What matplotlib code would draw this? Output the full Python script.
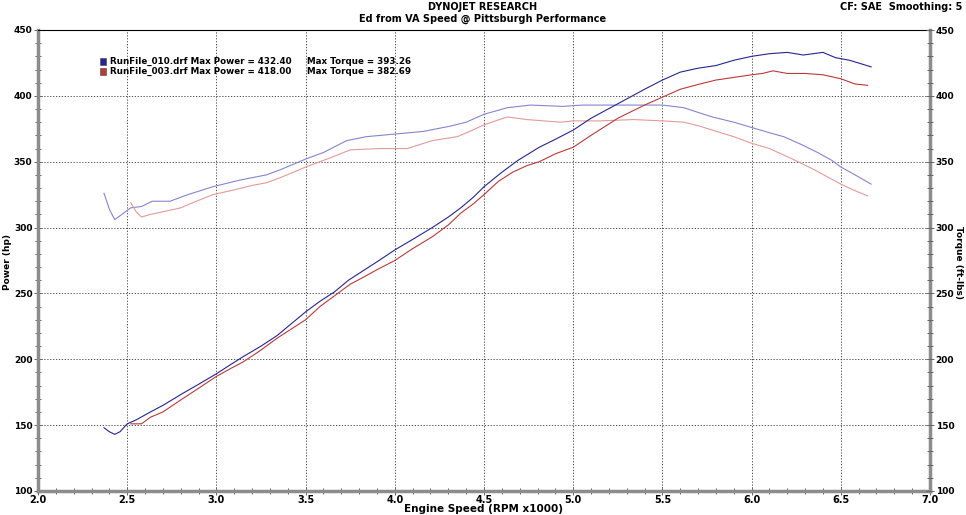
import matplotlib
matplotlib.use("Agg")
import matplotlib.pyplot as plt
from matplotlib.ticker import MultipleLocator
from matplotlib.patches import Rectangle

# ---------------- data ----------------
blue_hp_rpm = [2.37, 2.40, 2.43, 2.46, 2.50, 2.55, 2.63, 2.70, 2.81, 2.90, 3.00, 3.08, 3.15, 3.25,
               3.34, 3.42, 3.50, 3.58, 3.66, 3.74, 3.82, 3.90, 4.00, 4.10, 4.21, 4.30, 4.37, 4.44,
               4.50, 4.60, 4.69, 4.81, 4.90, 5.00, 5.10, 5.25, 5.40, 5.50, 5.60, 5.70, 5.80, 5.90,
               6.00, 6.10, 6.20, 6.29, 6.40, 6.47, 6.55, 6.67]
blue_hp = [148, 145, 143, 145, 151, 154, 160, 165, 174, 181, 189, 196, 202, 210,
           218, 227, 236, 244, 251, 260, 267, 274, 283, 291, 300, 308, 315, 323,
           331, 342, 351, 361, 367, 374, 383, 394, 405, 412, 418, 421, 423, 427,
           430, 432, 433, 431, 433, 429, 427, 422]

red_hp_rpm = [2.52, 2.58, 2.63, 2.70, 2.81, 2.90, 3.00, 3.08, 3.15, 3.25, 3.34, 3.42, 3.50, 3.58,
              3.68, 3.75, 3.82, 3.90, 4.00, 4.10, 4.21, 4.30, 4.37, 4.44, 4.50, 4.58, 4.66, 4.74,
              4.81, 4.90, 5.00, 5.10, 5.25, 5.40, 5.50, 5.60, 5.71, 5.80, 5.90, 6.00, 6.06, 6.12,
              6.20, 6.30, 6.40, 6.50, 6.58, 6.65]
red_hp = [151, 151, 156, 160, 170, 178, 187, 193, 198, 207, 216, 223, 230, 240,
          250, 257, 262, 268, 275, 284, 293, 302, 311, 318, 325, 335, 342, 347,
          350, 356, 361, 370, 383, 393, 399, 405, 409, 412, 414, 416, 417, 419,
          417, 417, 416, 413, 409, 408]

blue_tq_rpm = [2.37, 2.40, 2.43, 2.47, 2.52, 2.58, 2.64, 2.74, 2.84, 2.98, 3.13, 3.28, 3.36, 3.50,
               3.60, 3.73, 3.84, 4.00, 4.16, 4.31, 4.40, 4.50, 4.63, 4.76, 4.94, 5.05, 5.20, 5.35,
               5.50, 5.62, 5.71, 5.78, 5.90, 6.00, 6.10, 6.18, 6.28, 6.37, 6.45, 6.50, 6.58, 6.67]
blue_tq = [326, 314, 306, 310, 315, 316, 320, 320, 325, 331, 336, 340, 344, 352,
           357, 366, 369, 371, 373, 377, 380, 386, 391, 393, 392, 393, 393, 393,
           393, 391, 387, 384, 380, 376, 372, 369, 363, 357, 351, 346, 340, 333]

red_tq_rpm = [2.52, 2.55, 2.58, 2.63, 2.70, 2.80, 2.87, 2.98, 3.08, 3.20, 3.28, 3.36, 3.45, 3.50,
              3.64, 3.75, 3.92, 4.07, 4.21, 4.35, 4.42, 4.50, 4.63, 4.74, 4.93, 5.00, 5.15, 5.34,
              5.50, 5.62, 5.71, 5.78, 5.90, 6.00, 6.10, 6.23, 6.35, 6.50, 6.58, 6.65]
red_tq = [319, 312, 308, 310, 312, 315, 319, 325, 328, 332, 334, 338, 343, 346,
          353, 359, 360, 360, 366, 369, 373, 378, 384, 382, 380, 381, 381, 382,
          381, 380, 377, 374, 369, 364, 360, 352, 344, 333, 328, 324]

legend_lines = ["RunFile_010.drf Max Power = 432.40", "RunFile_003.drf Max Power = 418.00"]
legend_torque = ["Max Torque = 393.26", "Max Torque = 382.69"]

BLUE_HP = "#26268f"
BLUE_TQ = "#8585cf"
RED_HP = "#b83a3a"
RED_TQ = "#e39a9a"

NARROW = ["Liberation Sans Narrow", "DejaVu Sans"]

fig = plt.figure(figsize=(9.66, 5.15), dpi=100)
ax = fig.add_axes([38/966, 1-491/515, (930-38)/966, (491-30)/515])

ax.plot(blue_tq_rpm, blue_tq, color=BLUE_TQ, lw=0.8, zorder=3)
ax.plot(red_tq_rpm, red_tq, color=RED_TQ, lw=0.8, zorder=3)
ax.plot(red_hp_rpm, red_hp, color=RED_HP, lw=0.8, zorder=4)
ax.plot(blue_hp_rpm, blue_hp, color=BLUE_HP, lw=0.8, zorder=4)

ax.set_xlim(2.0, 7.0)
ax.set_ylim(100, 450)
ax.xaxis.set_major_locator(MultipleLocator(0.5))
ax.xaxis.set_minor_locator(MultipleLocator(0.1))
ax.yaxis.set_major_locator(MultipleLocator(50))
ax.yaxis.set_minor_locator(MultipleLocator(10))
ax.grid(True, which="major", color="#333333", linestyle=(0, (1.5, 2.0)), lw=0.6)

for side in ["left", "right", "bottom"]:
    ax.spines[side].set_color("#8c8c8c")
    ax.spines[side].set_linewidth(2.5)
ax.spines["top"].set_color("black")
ax.spines["top"].set_linewidth(0.8)

ax.tick_params(axis="both", which="both", direction="inout", color="#666666", width=0.7)
ax.tick_params(axis="both", which="major", length=6)
ax.tick_params(axis="both", which="minor", length=5)
ax.tick_params(axis="x", pad=0)
ax.tick_params(axis="y", pad=1)
ax.set_xticklabels([f"{v:.1f}" for v in ax.get_xticks()])
for lab in ax.get_xticklabels():
    lab.set_fontfamily(NARROW)
    lab.set_fontweight("bold")
    lab.set_fontsize(7)
for lab in ax.get_yticklabels():
    lab.set_fontfamily("DejaVu Sans")
    lab.set_fontweight("bold")
    lab.set_fontsize(6.5)

ax2 = ax.twinx()
ax2.set_ylim(100, 450)
ax2.yaxis.set_major_locator(MultipleLocator(50))
ax2.yaxis.set_minor_locator(MultipleLocator(10))
ax2.tick_params(axis="y", which="both", direction="inout", color="#666666", width=0.7, pad=1)
ax2.tick_params(axis="y", which="major", length=6)
ax2.tick_params(axis="y", which="minor", length=5)
for s in ax2.spines.values():
    s.set_visible(False)
for lab in ax2.get_yticklabels():
    lab.set_fontfamily("DejaVu Sans")
    lab.set_fontweight("bold")
    lab.set_fontsize(6.5)

fig.text(483/966, 1-509/515, "Engine Speed (RPM x1000)", ha="center", va="center",
         fontfamily=NARROW, fontweight="bold", fontsize=7.5)
fig.text(8/966, 1-262/515, "Power (hp)", rotation=90, ha="center", va="center",
         fontfamily="DejaVu Sans", fontweight="bold", fontsize=6.5)
fig.text(959/966, 1-262/515, "Torque (ft-lbs)", rotation=-90, ha="center", va="center",
         fontfamily="DejaVu Sans", fontweight="bold", fontsize=6.5)

fig.text(483/966, 1-7/515, "DYNOJET RESEARCH", ha="center", va="center",
         fontfamily=NARROW, fontweight="bold", fontsize=7)
fig.text(483/966, 1-19/515, "Ed from VA Speed @ Pittsburgh Performance", ha="center", va="center",
         fontfamily=NARROW, fontweight="bold", fontsize=7)
fig.text(962/966, 1-7/515, "CF: SAE  Smoothing: 5", ha="right", va="center",
         fontfamily=NARROW, fontweight="bold", fontsize=7)

# legend
colors_leg = [BLUE_HP, RED_HP]
ys = [61, 71]
for i in range(2):
    y = 1 - ys[i]/515
    fig.patches.append(Rectangle((100/966, y - 3.5/515), 6/966, 7/515, transform=fig.transFigure,
                                 facecolor=colors_leg[i], edgecolor="#444444", lw=0.4))
    fig.text(110/966, y, legend_lines[i], ha="left", va="center",
             fontfamily="DejaVu Sans", fontweight="bold", fontsize=6.3)
    fig.text(307/966, y, legend_torque[i], ha="left", va="center",
             fontfamily="DejaVu Sans", fontweight="bold", fontsize=6.3)

fig.savefig("out.png", dpi=100, facecolor="white")
